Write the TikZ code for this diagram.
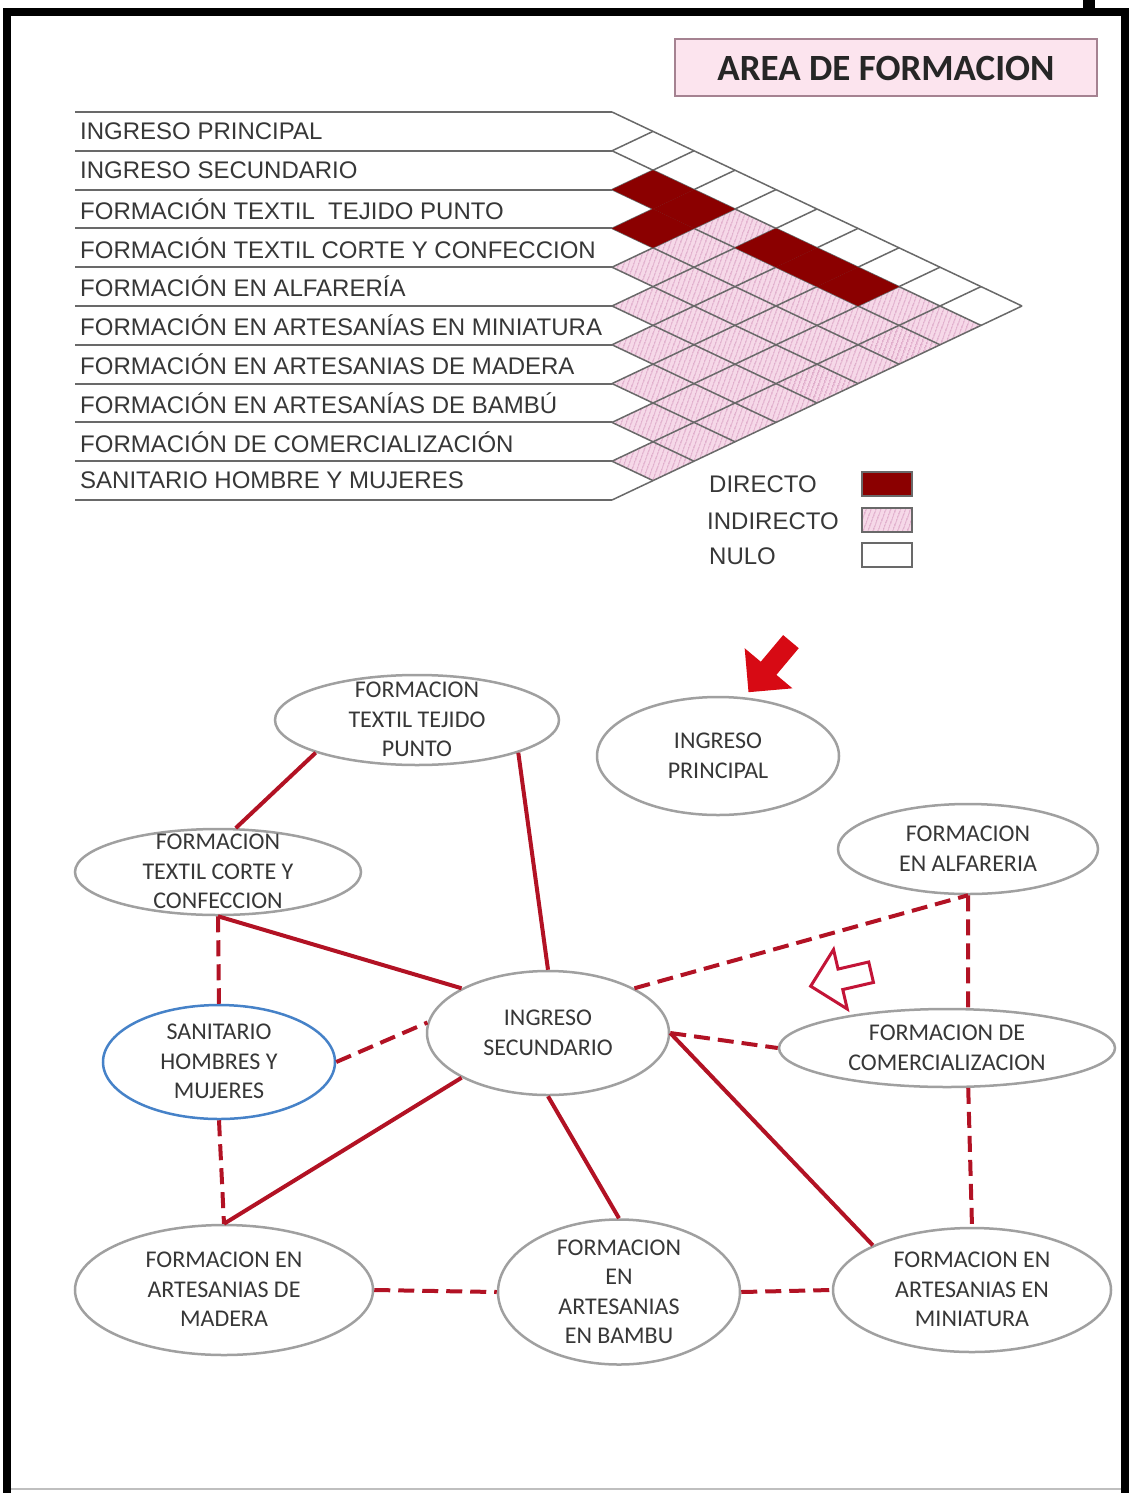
\documentclass[tikz,border=0pt]{standalone}
\usepackage{fontspec}
\setmainfont{Liberation Sans}
\newfontfamily\calibri{Carlito}
\usetikzlibrary{shapes.geometric, shapes.arrows, patterns.meta, positioning}

\definecolor{rojooscuro}{RGB}{139,0,0}
\definecolor{rosaind}{RGB}{246,216,232}
\definecolor{rayado}{RGB}{212,150,188}
\definecolor{rejilla}{RGB}{105,105,105}
\definecolor{enlace}{RGB}{178,18,36}
\definecolor{borde}{RGB}{160,160,160}
\definecolor{textogris}{RGB}{55,55,55}
\definecolor{azul}{RGB}{70,130,200}
\definecolor{rosatit}{RGB}{252,228,238}
\definecolor{bordetit}{RGB}{165,130,145}
\definecolor{rojoflecha}{RGB}{215,10,20}
\definecolor{rojohueco}{RGB}{195,20,55}

% una celda rombo de la matriz (fila i, fila j)
\newcommand{\celda}[3]{%
  \pgfmathsetmacro{\cx}{612+41*(#2-#1)}%
  \pgfmathsetmacro{\cy}{131.4+19.4*(#1+#2)}%
  \path[#3] (\cx-41,\cy) -- (\cx,\cy-19.4) -- (\cx+41,\cy) -- (\cx,\cy+19.4) -- cycle;}
% texto centrado dentro de las elipses
\newcommand{\etiq}[1]{\smash{\raisebox{-7.8pt}{\begin{tabular}{@{}c@{}}#1\end{tabular}}}}

\begin{document}
\begin{tikzpicture}[
    x=1pt, y=-1pt,
    fila/.style={anchor=west, inner sep=0pt, text=textogris, font=\fontsize{24}{28}\selectfont},
    nulo/.style={fill=white},
    indir/.style={preaction={fill=rosaind}, pattern={Lines[angle=70,distance=4pt,line width=1pt]}, pattern color=rayado},
    directo/.style={fill=rojooscuro},
    caja/.style={minimum width=50pt, minimum height=24pt, inner sep=0pt, draw=rejilla, line width=1.2pt},
    zona/.style={ellipse, draw=borde, line width=2.5pt, text=textogris, inner sep=0pt, font=\calibri\fontsize{24}{29.5}\selectfont},
    rel/.style={draw=enlace, line width=4pt},
    relind/.style={rel, dash pattern=on 16pt off 8pt}
]
    \useasboundingbox (0,0) rectangle (1132,1493);
    \fill[white] (0,0) rectangle (1132,1493);

    % marco
    \draw[line width=8pt] (7,1493) -- (7,12) -- (1125,12) -- (1125,1493);
    \fill (1083,0) rectangle (1095,12);
    \draw[gray!50, line width=1.5pt] (11,1489) -- (1121,1489);

    % titulo
    \node[draw=bordetit, fill=rosatit, line width=2pt, minimum width=422pt, minimum height=57pt,
          font=\calibri\bfseries\fontsize{37}{40}\selectfont, text=black!85] (titulo) at (886,68) {AREA DE FORMACION};

    % matriz de relaciones
    \foreach \i in {0,...,8}{
      \pgfmathtruncatemacro{\jini}{\i+1}
      \foreach \j in {\jini,...,9}{
        \ifnum\i=0 \celda{\i}{\j}{nulo}\else\celda{\i}{\j}{indir}\fi
      }
    }
    \foreach \k in {0,...,10}{
      \draw[rejilla, line width=2pt] (75,{112+38.8*\k}) -- (612,{112+38.8*\k});
      \draw[rejilla, line width=1.5pt] (612,{112+38.8*\k}) -- ++({41*(10-\k)},{19.4*(10-\k)});
      \draw[rejilla, line width=1.5pt] (612,{112+38.8*\k}) -- ++({41*\k},{-19.4*\k});
    }
    \foreach \i/\j in {1/2,1/3,2/3,1/5,1/6,1/7}{\celda{\i}{\j}{directo}}

    \foreach \t [count=\k from 0] in {INGRESO PRINCIPAL, INGRESO SECUNDARIO,
        FORMACIÓN TEXTIL~~TEJIDO PUNTO, FORMACIÓN TEXTIL CORTE Y CONFECCION,
        FORMACIÓN EN ALFARERÍA, FORMACIÓN EN ARTESANÍAS EN MINIATURA,
        FORMACIÓN EN ARTESANIAS DE MADERA, FORMACIÓN EN ARTESANÍAS DE BAMBÚ,
        FORMACIÓN DE COMERCIALIZACIÓN, SANITARIO HOMBRE Y MUJERES}
      \node[fila] (fila\k) at (80,{131.4+38.8*\k}) {\t};

    % leyenda
    \node[fila] (ldir) at (709,484) {DIRECTO};
    \node[fila] (lind) at (707,521) {INDIRECTO};
    \node[fila] (lnul) at (709,556) {NULO};
    \node[caja, directo] (cdir) at (887,484) {};
    \node[caja, indir] (cind) at (887,520) {};
    \node[caja, nulo] (cnul) at (887,555) {};

    % flechas
    \node[single arrow, fill=rojoflecha, minimum height=66pt, inner xsep=0pt, inner ysep=10pt,
          single arrow head extend=21pt, rotate=230] (flecha) at (773,663) {};
    \node[single arrow, draw=rojohueco, fill=white, line width=3pt, minimum height=62pt, inner xsep=0pt,
          inner ysep=9pt, single arrow head extend=20pt, rotate=193] (flechahueca) at (846,978) {};

    % zonas
    \node[zona, minimum width=284pt, minimum height=90pt] (tejido) at (417,720) {\etiq{FORMACION\\TEXTIL TEJIDO\\PUNTO}};
    \node[zona, minimum width=242pt, minimum height=118pt] (ingp) at (718,756) {\etiq{INGRESO\\PRINCIPAL}};
    \node[zona, minimum width=286pt, minimum height=86pt] (corte) at (218,872) {\etiq{FORMACION\\TEXTIL CORTE Y\\CONFECCION}};
    \node[zona, minimum width=260pt, minimum height=90pt] (alfa) at (968,849) {\etiq{FORMACION\\EN ALFARERIA}};
    \node[zona, minimum width=242pt, minimum height=124pt] (secu) at (548,1033) {\etiq{INGRESO\\SECUNDARIO}};
    \node[zona, draw=azul, minimum width=232pt, minimum height=114pt] (sanit) at (219,1062) {\etiq{SANITARIO\\HOMBRES Y\\MUJERES}};
    \node[zona, minimum width=336pt, minimum height=78pt] (comer) at (947,1048) {\etiq{FORMACION DE\\COMERCIALIZACION}};
    \node[zona, minimum width=298pt, minimum height=130pt] (madera) at (224,1290) {\etiq{FORMACION EN\\ARTESANIAS DE\\MADERA}};
    \node[zona, minimum width=242pt, minimum height=145pt] (bambu) at (619,1292) {\etiq{FORMACION\\EN\\ARTESANIAS\\EN BAMBU}};
    \node[zona, minimum width=278pt, minimum height=124pt] (minia) at (972,1290) {\etiq{FORMACION EN\\ARTESANIAS EN\\MINIATURA}};

    % relaciones
    \draw[rel] (tejido.south west) -- (corte.68);
    \draw[rel] (tejido.south east) -- (secu.north);
    \draw[rel] (corte.south) -- (secu.north west);
    \draw[relind] (corte.south) -- (sanit.north);
    \draw[relind] (sanit.east) -- (secu.175);
    \draw[relind] (sanit.south) -- (madera.north);
    \draw[rel] (secu.south west) -- (madera.north);
    \draw[rel] (secu.south) -- (bambu.north);
    \draw[rel] (secu.east) -- (minia.north west);
    \draw[relind] (secu.north east) -- (alfa.south);
    \draw[relind] (secu.east) -- (comer.west);
    \draw[relind] (alfa.south) -- (comer.62);
    \draw[relind] (comer.-62) -- (minia.north);
    \draw[relind] (madera.east) -- (bambu.west);
    \draw[relind] (bambu.east) -- (minia.west);
\end{tikzpicture}
\end{document}
